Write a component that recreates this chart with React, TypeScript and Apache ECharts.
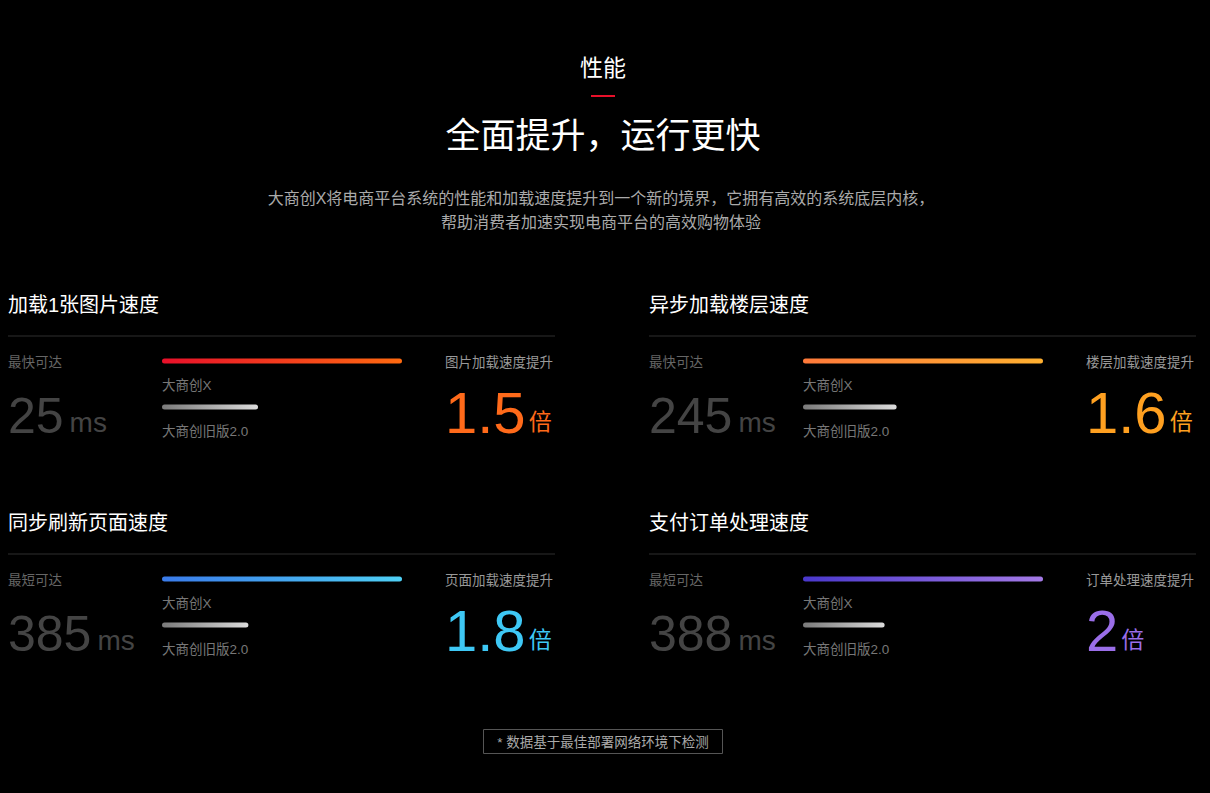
import React, { useEffect, useRef } from "react";
import * as echarts from "echarts";

const titles = ["加载1张图片速度", "异步加载楼层速度", "同步刷新页面速度", "支付订单处理速度"];
const leftLabels = ["最快可达", "最快可达", "最短可达", "最短可达"];
const msValues = ["25", "245", "385", "388"];
const rightLabels = ["图片加载速度提升", "楼层加载速度提升", "页面加载速度提升", "订单处理速度提升"];
const boosts = ["1.5", "1.6", "1.8", "2"];
const barCategories = ["大商创X", "大商创旧版2.0"];
const newValues = [100, 100, 100, 100];
const oldValues = [40, 39, 36, 34];
const gradA = ["#e8102a", "#ff7a3a", "#3a7bea", "#4a38cc"];
const gradB = ["#ff6a10", "#ffb030", "#4fd0f5", "#a47ae6"];
const boostColors = ["#ff6a1a", "#ffa020", "#3ec8f5", "#9a6ee8"];

const FONT = "Liberation Sans, Noto Sans CJK SC, sans-serif";

export default function App() {
  const ref = useRef<HTMLDivElement>(null);
  useEffect(() => {
    const chart = echarts.init(ref.current!, null, { renderer: "svg" });
    const grids: any[] = [], xAxes: any[] = [], yAxes: any[] = [], series: any[] = [];
    const graphic: any[] = [];
    const txt = (x: number, y: number, text: string, size: number, fill: string, align = "left", extra: any = {}) =>
      graphic.push({ type: "text", x, y, style: { text, fontSize: size, fill, align, verticalAlign: "middle", fontFamily: FONT, ...extra } });

    txt(603, 68, "性能", 23, "#fff", "center");
    graphic.push({ type: "rect", shape: { x: 591, y: 95, width: 24, height: 2 }, style: { fill: "#e8102a" } });
    txt(603, 135, "全面提升，运行更快", 35, "#fff", "center");
    txt(601, 198, "大商创X将电商平台系统的性能和加载速度提升到一个新的境界，它拥有高效的系统底层内核，", 16, "#aaa", "center");
    txt(601, 222, "帮助消费者加速实现电商平台的高效购物体验", 16, "#aaa", "center");

    for (let i = 0; i < 4; i++) {
      const ox = i % 2 === 0 ? 8 : 649;
      const oy = i < 2 ? 0 : 218;
      txt(ox, 305 + oy, titles[i], 20, "#fff");
      graphic.push({ type: "line", shape: { x1: ox, y1: 336 + oy, x2: ox + 547, y2: 336 + oy }, style: { stroke: "#2e2e2e", lineWidth: 1 } });
      txt(ox, 362 + oy, leftLabels[i], 13.5, "#666");
      graphic.push({
        type: "text", x: ox, y: 416 + oy,
        style: {
          text: `{n|${msValues[i]}}{u|ms}`, verticalAlign: "middle", fontFamily: FONT,
          rich: { n: { fontSize: 50, fill: "#444", fontFamily: FONT }, u: { fontSize: 28, fill: "#444", fontFamily: FONT, padding: [12, 0, 0, 6] } },
        },
      });
      txt(ox + 154, 385 + oy, barCategories[0], 13.5, "#777");
      txt(ox + 154, 431 + oy, barCategories[1], 13.5, "#777");
      txt(ox + 545, 362 + oy, rightLabels[i], 13.5, "#999", "right");
      graphic.push({
        type: "text", x: ox + 437, y: 412 + oy,
        style: {
          text: `{n|${boosts[i]}}{u|倍}`, align: "left", verticalAlign: "middle", fontFamily: FONT,
          rich: { n: { fontSize: 58, fill: boostColors[i], fontFamily: FONT }, u: { fontSize: 23, fill: boostColors[i], fontFamily: FONT, padding: [20, 0, 0, 3] } },
        },
      });

      grids.push({ left: ox + 154, top: 338 + oy, width: 240, height: 92 });
      xAxes.push({ gridIndex: i, type: "value", min: 0, max: 100, show: false });
      yAxes.push({ gridIndex: i, type: "category", data: barCategories, inverse: true, show: false });
      series.push({
        type: "bar", xAxisIndex: i, yAxisIndex: i, barWidth: 5,
        data: [
          { value: newValues[i], itemStyle: { color: new echarts.graphic.LinearGradient(0, 0, 1, 0, [{ offset: 0, color: gradA[i] }, { offset: 1, color: gradB[i] }]) } },
          { value: oldValues[i], itemStyle: { color: new echarts.graphic.LinearGradient(0, 0, 1, 0, [{ offset: 0, color: "#7a7a7a" }, { offset: 1, color: "#dcdcdc" }]) } },
        ],
        itemStyle: { borderRadius: 3 },
        silent: true,
      });
    }

    graphic.push({ type: "rect", shape: { x: 483.5, y: 729.5, width: 239, height: 24 }, style: { fill: "none", stroke: "#555", lineWidth: 1 } });
    txt(603, 742, "* 数据基于最佳部署网络环境下检测", 13.5, "#aaa", "center");

    chart.setOption({
      animation: false,
      backgroundColor: "#000",
      grid: grids, xAxis: xAxes, yAxis: yAxes, series, graphic,
    });
    return () => chart.dispose();
  }, []);
  return <div ref={ref} style={{ position: "fixed", left: 0, top: 0, width: 1210, height: 793, background: "#000" }} />;
}
